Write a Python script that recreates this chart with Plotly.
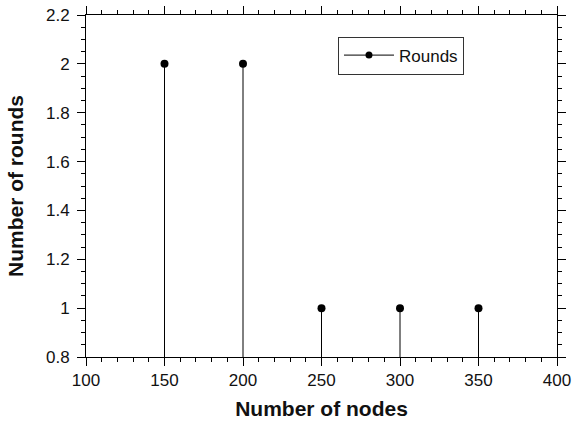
import plotly.graph_objects as go

# Number of rounds needed for each network size
nodes = [150, 200, 250, 300, 350]
rounds = [2, 2, 1, 1, 1]
series_name = "Rounds"

y_base = 0.8
FONT = "Liberation Sans, Arial, Helvetica, sans-serif"

# Stem lines from the axis floor up to each value
stem_x, stem_y = [], []
for n, r in zip(nodes, rounds):
    stem_x += [n, n, None]
    stem_y += [y_base, r, None]

fig = go.Figure()
fig.add_trace(go.Scatter(x=stem_x, y=stem_y, mode="lines",
                         line=dict(color="black", width=1),
                         showlegend=False, hoverinfo="skip"))
fig.add_trace(go.Scatter(x=nodes, y=rounds, mode="markers",
                         marker=dict(color="black", size=8),
                         showlegend=False))
# Legend entry showing line + marker
fig.add_trace(go.Scatter(x=[None], y=[None], mode="lines+markers", name=series_name,
                         line=dict(color="black", width=1),
                         marker=dict(color="black", size=7)))

axis_common = dict(
    showline=True, linecolor="black", linewidth=1, mirror="ticks",
    ticks="outside", ticklen=8, tickwidth=1, tickcolor="black",
    showgrid=False, zeroline=False, automargin=False,
    tickfont=dict(family=FONT, size=17, color="#111111"),
)

fig.update_xaxes(range=[100, 400], tick0=100, dtick=50,
                 minor=dict(dtick=10, ticks="outside", ticklen=4, tickcolor="black", showgrid=False),
                 title=dict(text="<b>Number of nodes</b>", standoff=11,
                            font=dict(family=FONT, size=21, color="#111111")),
                 **axis_common)
fig.update_yaxes(range=[0.8, 2.2], tick0=0.8, dtick=0.2,
                 minor=dict(dtick=0.05, ticks="outside", ticklen=4, tickcolor="black", showgrid=False),
                 ticklabelstandoff=4,
                 title=dict(text="<b>Number of rounds</b>", standoff=16,
                            font=dict(family=FONT, size=21, color="#111111")),
                 **axis_common)

fig.update_layout(
    width=574, height=427,
    margin=dict(l=86, r=17, t=15, b=70),
    paper_bgcolor="white", plot_bgcolor="white",
    legend=dict(x=0.535, y=0.937, xanchor="left", yanchor="top",
                itemwidth=50,
                bordercolor="#333333", borderwidth=1, bgcolor="white",
                font=dict(family=FONT, size=17, color="#111111")),
)

fig.write_html("out.html")
